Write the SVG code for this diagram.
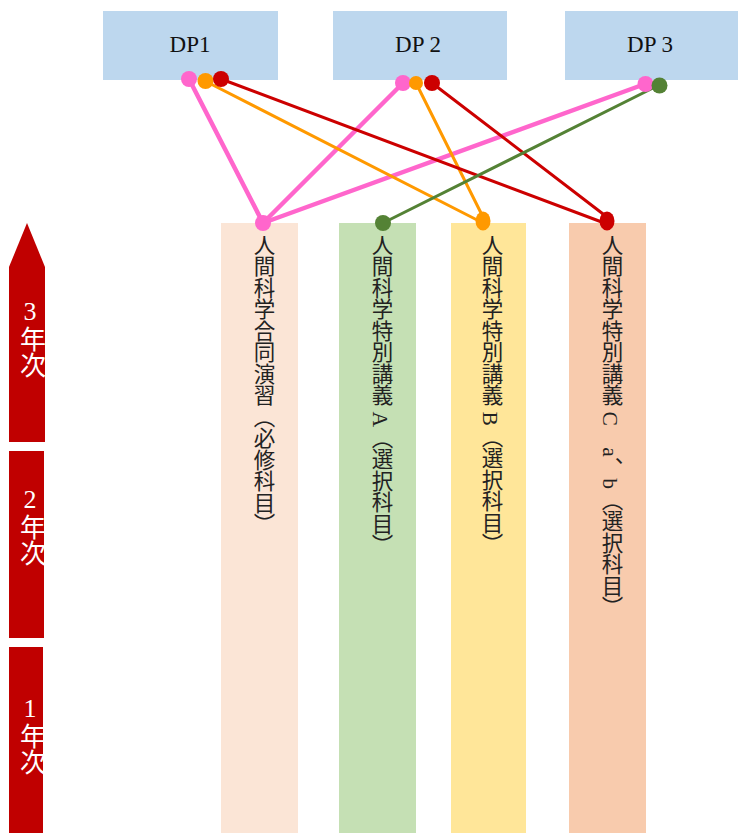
<svg xmlns="http://www.w3.org/2000/svg" width="738" height="833" viewBox="0 0 738 833">
<style>
.dp{fill:#BDD7EE}
.dpt{font-family:"Liberation Serif","Noto Sans CJK JP",serif;font-size:23px;fill:#111;text-anchor:middle}
.vt{font-family:"Liberation Serif","Noto Sans CJK JP",serif;font-size:21.5px;fill:#222;writing-mode:vertical-rl}
.yr{fill:#C00000}
.yt{font-family:"Liberation Serif","Noto Sans CJK JP",serif;font-size:26px;fill:#fff;writing-mode:vertical-rl;text-orientation:upright}
.ln{fill:none;stroke-linecap:round}
.pk{stroke:#FF66CC;stroke-width:4.5}
.or{stroke:#FF9900;stroke-width:3}
.rd{stroke:#CC0000;stroke-width:3}
.gr{stroke:#548235;stroke-width:3}
</style>
<rect width="738" height="833" fill="#fff"/>
<g id="year3"><polygon class="yr" points="27,223 45,267 45,442 9,442 9,267"/><text class="yt" x="30" y="297">3年次</text></g>
<g id="year2"><rect class="yr" x="9" y="451" width="35" height="187"/><text class="yt" x="30" y="485">2年次</text></g>
<g id="year1"><rect class="yr" x="9" y="647" width="34" height="186"/><text class="yt" x="30" y="694">1年次</text></g>
<g id="dp1"><rect class="dp" x="103" y="11" width="175" height="69"/><text class="dpt" x="190" y="52">DP1</text></g>
<g id="dp2"><rect class="dp" x="333" y="11" width="174" height="69"/><text class="dpt" x="418" y="52">DP 2</text></g>
<g id="dp3"><rect class="dp" x="565" y="11" width="173" height="69"/><text class="dpt" x="650" y="52">DP 3</text></g>
<g id="course1"><rect x="221" y="223" width="77" height="610" fill="#FBE5D6"/><text class="vt" x="262" y="234">人間科学合同演習（必修科目）</text></g>
<g id="course2"><rect x="339" y="223" width="77" height="610" fill="#C5E0B4"/><text class="vt" x="380" y="234">人間科学特別講義 A（選択科目）</text></g>
<g id="course3"><rect x="451" y="223" width="75" height="610" fill="#FFE699"/><text class="vt" x="490" y="234">人間科学特別講義 B（選択科目）</text></g>
<g id="course4"><rect x="569" y="223" width="77" height="610" fill="#F8CBAD"/><text class="vt" x="610" y="234">人間科学特別講義 C　a、b（選択科目）</text></g>
<g id="connectors">
<line class="ln pk" x1="189" y1="79" x2="263" y2="223"/>
<line class="ln pk" x1="403" y1="83" x2="263" y2="223"/>
<line class="ln pk" x1="645" y1="84" x2="263" y2="223"/>
<line class="ln or" x1="205" y1="81" x2="483" y2="223"/>
<line class="ln or" x1="416" y1="83" x2="483" y2="217"/>
<line class="ln rd" x1="221" y1="79" x2="607" y2="224"/>
<line class="ln rd" x1="432" y1="83" x2="607" y2="217"/>
<line class="ln gr" x1="659" y1="85" x2="383" y2="223"/>
<circle cx="189" cy="79" r="8" fill="#FF66CC"/>
<circle cx="205.5" cy="81" r="8" fill="#FF9900"/>
<circle cx="221" cy="79" r="8" fill="#CC0000"/>
<circle cx="403" cy="83" r="8" fill="#FF66CC"/>
<circle cx="416" cy="83" r="7" fill="#FF9900"/>
<circle cx="432" cy="83" r="8" fill="#CC0000"/>
<circle cx="645.5" cy="84" r="8" fill="#FF66CC"/>
<circle cx="659.5" cy="85.5" r="8" fill="#548235"/>
<circle cx="263" cy="223" r="8" fill="#FF66CC"/>
<circle cx="383" cy="223" r="8" fill="#548235"/>
<ellipse cx="483" cy="221" rx="7.5" ry="9.5" fill="#FF9900"/>
<ellipse cx="607" cy="221" rx="7.5" ry="9.5" fill="#CC0000"/>
</g>
</svg>
